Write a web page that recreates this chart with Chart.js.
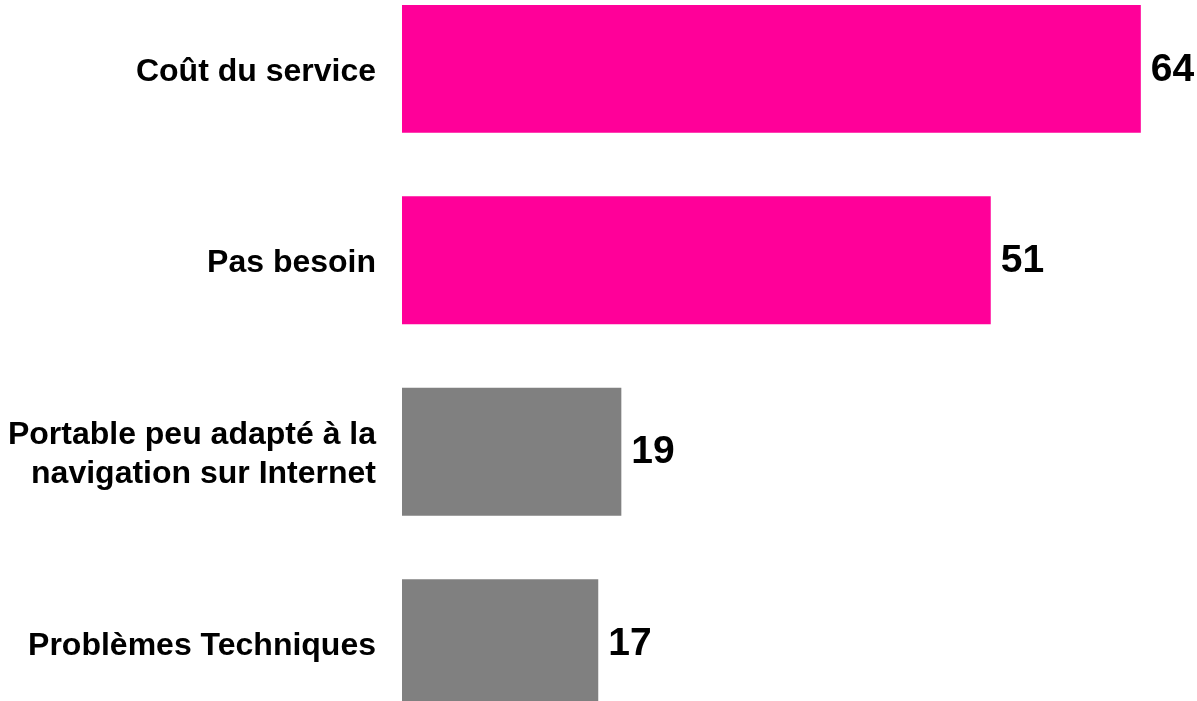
<!DOCTYPE html>
<html>
<head>
<meta charset="utf-8">
<script src="https://cdn.jsdelivr.net/npm/chart.js@4/dist/chart.umd.min.js"></script>
<style>
  html, body { margin: 0; padding: 0; background: #fff; overflow: hidden; }
  #wrap { position: absolute; left: 0; top: -72px; width: 1197px; height: 856px; }
</style>
</head>
<body>
<div id="wrap"><canvas id="chart"></canvas></div>
<script>
const categories = [
    'Coût du service',
    'Pas besoin',
    ['Portable peu adapté à la', 'navigation sur Internet'],
    'Problèmes Techniques'
];
const values = [64, 51, 19, 17];
const barColors = ['#ff0099', '#ff0099', '#808080', '#808080'];

// Draws the value at the end of each bar
const valueLabels = {
    id: 'valueLabels',
    afterDatasetsDraw(chart) {
        const c = chart.ctx;
        const meta = chart.getDatasetMeta(0);
        c.save();
        c.font = 'bold 39px "Liberation Sans", Arial, sans-serif';
        c.fillStyle = '#000';
        c.textAlign = 'left';
        c.textBaseline = 'middle';
        meta.data.forEach((bar, i) => {
            c.fillText(String(values[i]), bar.x + 10, bar.y + 1);
        });
        c.restore();
    }
};

const ctx = document.getElementById('chart').getContext('2d');
new Chart(ctx, {
    type: 'bar',
    data: {
        labels: categories,
        datasets: [{
            data: values,
            backgroundColor: barColors,
            borderWidth: 0,
            categoryPercentage: 1,
            barPercentage: 0.668
        }]
    },
    options: {
        indexAxis: 'y',
        responsive: true,
        maintainAspectRatio: false,
        animation: false,
        layout: { padding: { left: 0, right: 10, top: 0, bottom: 0 } },
        plugins: {
            legend: { display: false },
            tooltip: { enabled: false }
        },
        scales: {
            x: {
                display: false,
                min: 0,
                max: 68
            },
            y: {
                afterFit(scale) { scale.width = 402; },
                grid: { display: false, drawTicks: false },
                border: { display: false },
                ticks: {
                    padding: 26,
                    labelOffset: 3,
                    color: '#000',
                    font: { family: '"Liberation Sans", Arial, sans-serif', size: 32, weight: 'bold', lineHeight: 1.2 }
                }
            }
        }
    },
    plugins: [valueLabels]
});
</script>
</body>
</html>
